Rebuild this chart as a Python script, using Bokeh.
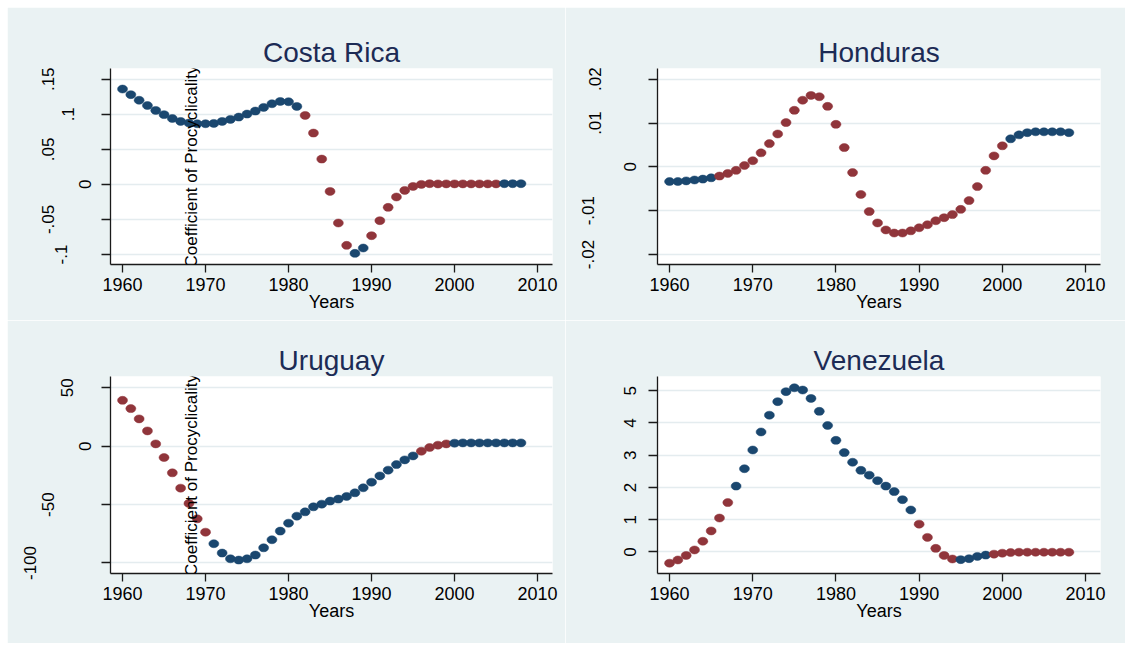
from math import pi
from bokeh.plotting import figure
from bokeh.models import (Range1d, FixedTicker, Label, CustomJSTickFormatter, ColumnDataSource,
                          Spacer, LinearAxis)
from bokeh.layouts import column, row
from bokeh.embed import file_html
from bokeh.resources import INLINE

# ---------------- data ----------------
years = list(range(1960, 2009))

costa_rica = [0.136, 0.128, 0.120, 0.1125, 0.1055, 0.0995, 0.094, 0.0898, 0.0875, 0.0865,
              0.0865, 0.087, 0.0898, 0.0927, 0.096, 0.1003, 0.1046, 0.1098, 0.115, 0.1183,
              0.1179, 0.1112, 0.0984, 0.0732, 0.0361, -0.0100, -0.0551, -0.0870, -0.0984, -0.0908,
              -0.0732, -0.0518, -0.0328, -0.0180, -0.0086, -0.0029, 0.0000, 0.0010, 0.0007, 0.0007,
              0.0007, 0.0007, 0.0007, 0.0007, 0.0007, 0.0007, 0.0010, 0.0010, 0.0010]
costa_rica_sig = ["b"] * 22 + ["r"] * 6 + ["b"] * 2 + ["r"] * 16 + ["b"] * 3

honduras = [-0.00335, -0.00335, -0.0032, -0.0030, -0.0028, -0.0025, -0.0021, -0.0015, -0.0008, 0.0003,
            0.0014, 0.0032, 0.0053, 0.0075, 0.0101, 0.0129, 0.0152, 0.0163, 0.0160, 0.0138,
            0.0097, 0.0044, -0.0013, -0.0063, -0.0102, -0.0128, -0.0144, -0.0151, -0.0151, -0.0146,
            -0.0139, -0.0132, -0.0123, -0.0116, -0.0109, -0.0097, -0.0077, -0.0045, -0.0008, 0.0025,
            0.0048, 0.0064, 0.0073, 0.0078, 0.0080, 0.0080, 0.0080, 0.0080, 0.0078]
honduras_sig = ["b"] * 6 + ["r"] * 35 + ["b"] * 8

uruguay = [39.3, 32.2, 23.4, 13.1, 2.0, -9.7, -22.8, -35.9, -49.0, -62.2,
           -73.6, -83.5, -91.5, -96.4, -97.5, -96.4, -93.2, -87.0, -80.1, -72.7,
           -65.9, -59.9, -56.2, -51.9, -49.6, -47.0, -45.3, -43.0, -39.9, -35.6,
           -30.8, -25.4, -20.5, -15.7, -11.7, -8.3, -4.3, -1.1, 0.9, 2.0,
           2.6, 2.85, 2.85, 2.85, 2.85, 2.85, 2.85, 2.85, 2.85]
uruguay_sig = ["r"] * 11 + ["b"] * 25 + ["r"] * 4 + ["b"] * 9

venezuela = [-0.35, -0.25, -0.11, 0.06, 0.33, 0.65, 1.05, 1.53, 2.04, 2.58,
             3.16, 3.72, 4.24, 4.66, 4.97, 5.09, 5.02, 4.76, 4.36, 3.92,
             3.46, 3.08, 2.78, 2.53, 2.38, 2.21, 2.04, 1.87, 1.62, 1.30,
             0.86, 0.45, 0.11, -0.11, -0.22, -0.24, -0.21, -0.14, -0.10, -0.07,
             -0.04, -0.02, -0.01, -0.01, -0.01, -0.01, -0.01, -0.01, -0.01]
venezuela_sig = ["r"] * 8 + ["b"] * 22 + ["r"] * 5 + ["b"] * 4 + ["r"] * 10

x_ticks = [1960, 1970, 1980, 1990, 2000, 2010]
cr_ticks = [0.15, 0.1, 0.05, 0.0, -0.05, -0.1]
cr_labels = [".15", ".1", ".05", "0", "-.05", "-.1"]
ho_ticks = [0.02, 0.01, 0.0, -0.01, -0.02]
ho_labels = [".02", ".01", "0", "-.01", "-.02"]
ur_ticks = [50, 0, -50, -100]
ur_labels = ["50", "0", "-50", "-100"]
ve_ticks = [5, 4, 3, 2, 1, 0]
ve_labels = ["5", "4", "3", "2", "1", "0"]

# ---------------- style ----------------
NAVY = "#1A476F"
MAROON = "#90353B"
BG = "#EAF2F3"
GRID = "#E4ECEF"
TITLE_C = "#1C2B55"
FONT = "Liberation Sans"
X_RANGE = (1958.55, 2011.8)
LABEL_H = 14      # thickness Bokeh reserves for a rotated 17px tick label
TICK_OUT = 9

FMT_CODE = """
for (let i = 0; i < vals.length; i++) {
    if (Math.abs(vals[i] - tick) <= 1e-9 + 1e-6 * Math.abs(tick)) { return labs[i]; }
}
return '';
"""


def style_label_axis(ax):
    ax.major_label_orientation = "vertical"
    ax.major_label_text_font = FONT
    ax.major_label_text_font_size = "17px"
    ax.major_label_text_color = "black"


def add_ylabels(p, yticks, ylabels, targets):
    """Stata-like y labels: each group of labels sits at its own distance from the axis line."""
    prev = None
    for gi, c in enumerate(sorted(set(targets))):
        vals = [v for v, t in zip(yticks, targets) if t == c]
        labs = [s for s, t in zip(ylabels, targets) if t == c]
        fmt = CustomJSTickFormatter(args=dict(vals=vals, labs=labs), code=FMT_CODE)
        if gi == 0:
            ax = p.yaxis[0]
            standoff = c - TICK_OUT - LABEL_H / 2
        else:
            ax = LinearAxis(ticker=FixedTicker(ticks=vals))
            ax.axis_line_color = None
            ax.major_tick_line_color = None
            ax.minor_tick_line_color = None
            ax.major_tick_out = 0
            ax.major_tick_in = 0
            ax.minor_tick_out = 0
            ax.minor_tick_in = 0
            p.add_layout(ax, "left")
            standoff = c - prev - LABEL_H
        ax.formatter = fmt
        ax.major_label_standoff = int(round(standoff))
        style_label_axis(ax)
        prev = c


def panel(title, vals, sig, yr, yticks, ylabels, targets, width, height, borders, ytitle):
    ml, mr, mt, mb = borders
    p = figure(width=width, height=height, x_range=Range1d(*X_RANGE), y_range=Range1d(*yr),
               output_backend="svg", toolbar_location=None,
               min_border_left=ml, min_border_right=mr, min_border_top=mt, min_border_bottom=mb,
               background_fill_color="white", border_fill_color=BG, outline_line_color=None)
    p.title.text = title
    p.title.align = "center"
    p.title.text_font = FONT
    p.title.text_font_size = "28px"
    p.title.text_font_style = "normal"
    p.title.text_color = TITLE_C
    p.title.standoff = 2

    colors = [NAVY if s == "b" else MAROON for s in sig]
    src = ColumnDataSource(dict(x=years, y=vals, c=colors))
    p.ellipse(x="x", y="y", width=10, height=8, width_units="screen", height_units="screen",
              fill_color="c", line_color="c", line_width=0.5, source=src)

    xa = p.xaxis[0]
    xa.ticker = FixedTicker(ticks=x_ticks)
    xa.major_label_text_font = FONT
    xa.major_label_text_font_size = "18px"
    xa.major_label_text_color = "black"
    xa.major_tick_out = 8
    xa.major_tick_in = 0
    xa.minor_tick_out = 0
    xa.minor_tick_in = 0
    xa.major_label_standoff = 5
    xa.axis_line_color = "#1a1a1a"
    xa.axis_line_width = 1.3
    xa.major_tick_line_color = "#1a1a1a"
    xa.major_tick_line_width = 1.3
    xa.axis_label = "Years"
    xa.axis_label_text_font = FONT
    xa.axis_label_text_font_size = "18px"
    xa.axis_label_text_font_style = "normal"
    xa.axis_label_text_color = "black"
    xa.axis_label_standoff = -2

    ya = p.yaxis[0]
    ya.ticker = FixedTicker(ticks=yticks)
    ya.major_tick_out = TICK_OUT
    ya.major_tick_in = 0
    ya.minor_tick_out = 0
    ya.minor_tick_in = 0
    ya.axis_line_color = "#1a1a1a"
    ya.axis_line_width = 1.3
    ya.major_tick_line_color = "#1a1a1a"
    ya.major_tick_line_width = 1.3
    add_ylabels(p, yticks, ylabels, targets)

    p.xgrid.grid_line_color = None
    p.ygrid.ticker = FixedTicker(ticks=yticks)
    p.ygrid.grid_line_color = GRID
    p.ygrid.grid_line_width = 1.5

    if ytitle:
        p.add_layout(Label(x=1968.3, y=(yr[0] + yr[1]) / 2, text="Coefficient of Procyclicality",
                           angle=pi / 2, text_align="center", text_baseline="middle",
                           text_font=FONT, text_font_size="17px", text_color="black"))
    return p


TOP_H, BOT_H = 313, 323
TOP_B = (61, 56)
BOT_B = (56, 70)

p1 = panel("Costa Rica", costa_rica, costa_rica_sig, (-0.1143, 0.1653), cr_ticks, cr_labels,
           [60.5, 42, 60.5, 26, 60.5, 48], 558, TOP_H, (103, 13) + TOP_B, True)
p2 = panel("Honduras", honduras, honduras_sig, (-0.02228, 0.02244), ho_ticks, ho_labels,
           [61.5, 61.5, 28, 67, 67], 560, TOP_H, (92, 25) + TOP_B, False)
p3 = panel("Uruguay", uruguay, uruguay_sig, (-109.0, 59.7), ur_ticks, ur_labels,
           [43, 26, 61.5, 78.5], 558, BOT_H, (103, 13) + BOT_B, True)
p4 = panel("Venezuela", venezuela, venezuela_sig, (-0.67, 5.44), ve_ticks, ve_labels,
           [28] * 6, 560, BOT_H, (92, 25) + BOT_B, False)

grid = column(row(p1, p2), row(p3, p4))
layout = column(Spacer(width=1125, height=7), row(Spacer(width=7, height=643 - 7), grid))
open("out.html", "w").write(file_html(layout, INLINE))
